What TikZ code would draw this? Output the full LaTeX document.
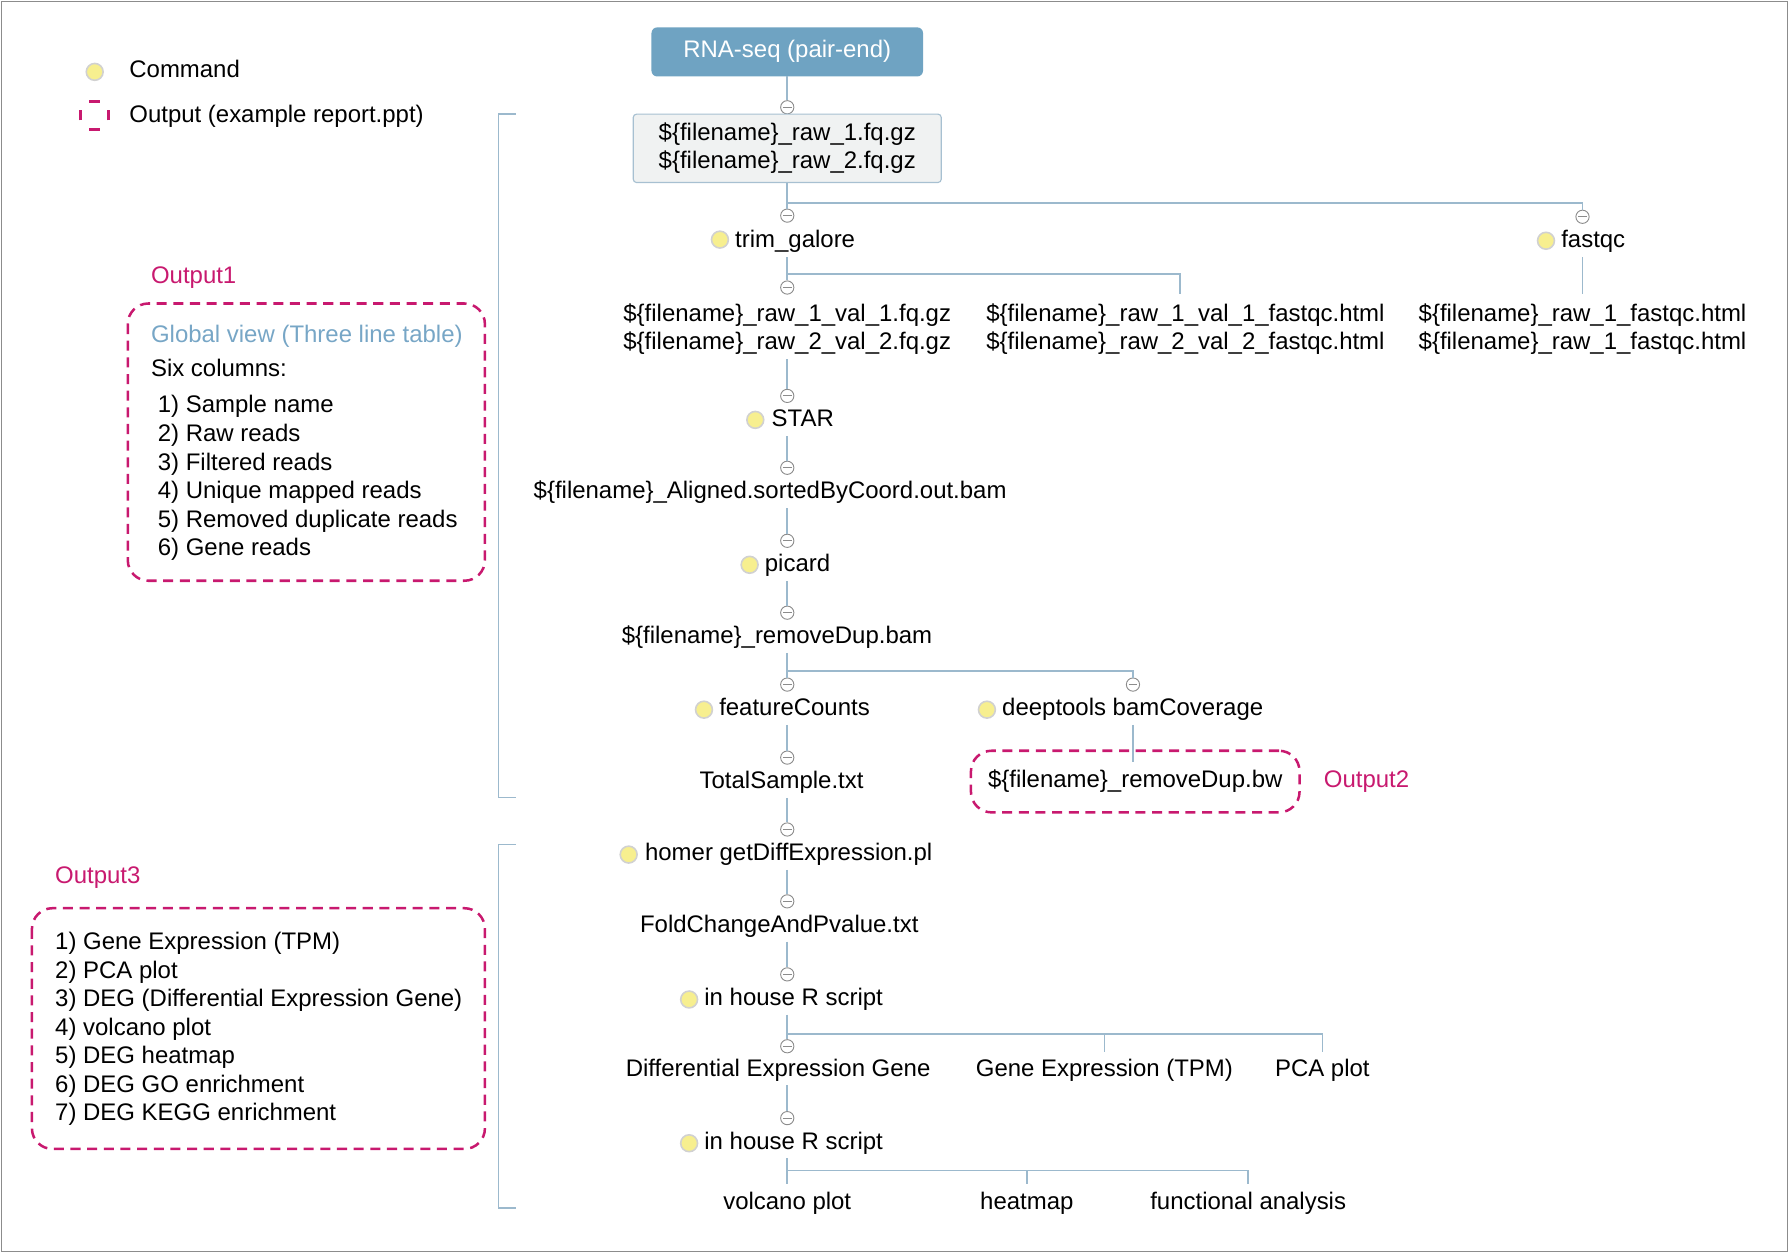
\documentclass[tikz,border=0pt]{standalone}
\usepackage{fontspec}
\setmainfont{Liberation Sans}
\definecolor{lineblue}{HTML}{9CB9CD}
\definecolor{boxblue}{HTML}{6FA3C2}
\definecolor{mag}{HTML}{C8196F}
\definecolor{bulfill}{HTML}{F7EF8F}
\definecolor{rawfill}{HTML}{F0F2F2}
\definecolor{rawdraw}{HTML}{A7C0D1}
\definecolor{ltxt}{HTML}{77A6C6}
\newcommand{\myf}{\fontsize{10.5pt}{12.5pt}\selectfont}
\begin{document}
\begin{tikzpicture}[x=0.5pt,y=-0.5pt,
  txt/.style={inner sep=0pt, outer ysep=2pt, text height=0.72em, text depth=0.21em, font=\myf, yshift=-1pt},
  mtxt/.style={inner sep=0pt, outer ysep=2pt, font=\myf, yshift=-1pt},
  cmd/.style={txt, anchor=west},
  bul/.style={circle, fill=bulfill, draw=black!18, line width=0.7pt, minimum size=7.4pt, inner sep=0pt},
  coll/.style={circle, draw=black!45, fill=white, line width=0.4pt, minimum size=5.8pt, inner sep=0pt,
    path picture={\draw[black!45, line width=0.4pt] ([xshift=1pt]path picture bounding box.west) -- ([xshift=-1pt]path picture bounding box.east);}},
  conn/.style={draw=lineblue, line width=0.7pt},
  outbox/.style={draw=mag, line width=1.1pt, dash pattern=on 4.4pt off 2.9pt, rounded corners=9pt},
  maglab/.style={txt, text=mag, anchor=west},
  magline/.style={draw=mag, line width=1.3pt}
]
\useasboundingbox (0,0) rectangle (1568,1098);
\draw[black!45, line width=0.5pt] (1,1) rectangle (1567,1097);

% legend
\node[bul] (lb) at (83,63) {};
\node[cmd] (lcmd) at (113,61) {Command};
\node[minimum size=12pt, inner sep=0pt] (licon) at (83,101) {};
\draw[magline] ([xshift=-2.4pt]licon.north) -- ([xshift=2.4pt]licon.north);
\draw[magline] ([xshift=-2.4pt]licon.south) -- ([xshift=2.4pt]licon.south);
\draw[magline] ([yshift=-2.2pt]licon.west) -- ([yshift=2.2pt]licon.west);
\draw[magline] ([yshift=-2.2pt]licon.east) -- ([yshift=2.2pt]licon.east);
\node[cmd] (lout) at (113,100) {Output (example report.ppt)};

% Output1
\node[maglab] (o1lab) at (132,241) {Output1};
\draw[outbox] (112,266) rectangle (425,509);
\node[txt, anchor=west, text=ltxt] (gv) at (132,293) {Global view (Three line table)};
\node[txt, anchor=west] (six) at (132,323) {Six columns:};
\node[mtxt, anchor=west, align=left] (o1list) at (138,417) {1) Sample name\\2) Raw reads\\3) Filtered reads\\4) Unique mapped reads\\5) Removed duplicate reads\\6) Gene reads};

% Output3
\node[maglab] (o3lab) at (48,767) {Output3};
\draw[outbox] (28,796) rectangle (425,1007);
\node[mtxt, anchor=west, align=left] (o3list) at (48,900) {1) Gene Expression (TPM)\\2) PCA plot\\3) DEG (Differential Expression Gene)\\4) volcano plot\\5) DEG heatmap\\6) DEG GO enrichment\\7) DEG KEGG enrichment};

% brackets
\coordinate (br1a) at (452,100); \coordinate (br1b) at (437,100);
\coordinate (br1c) at (437,699); \coordinate (br1d) at (452,699);
\draw[conn] (br1a) -- (br1b) -- (br1c) -- (br1d);
\coordinate (br2a) at (452,740); \coordinate (br2b) at (437,740);
\coordinate (br2c) at (437,1059); \coordinate (br2d) at (452,1059);
\draw[conn] (br2a) -- (br2b) -- (br2c) -- (br2d);

% main tree
\node[txt, outer ysep=0pt, yshift=1pt, fill=boxblue, text=white, rounded corners=2.5pt, minimum width=119pt, minimum height=21.5pt] (rna) at (690,45.5) {RNA-seq (pair-end)};
\node[coll] (k1) at (690,94) {};
\draw[conn] (rna) -- (k1);
\node[draw=rawdraw, fill=rawfill, line width=0.5pt, rounded corners=1.5pt, minimum width=135pt, minimum height=30pt, inner sep=0pt, align=center, font=\myf] (raw) at (690,130) {\$\{filename\}\_raw\_1.fq.gz\\\$\{filename\}\_raw\_2.fq.gz};
\node[coll] (k2) at (690,189) {};
\draw[conn] (raw) -- (k2);
\coordinate (j1) at (690,178);
\node[coll] (k3) at (1387,190) {};
\draw[conn] (j1) -| (k3);
\node[bul] (b1) at (631,210) {};
\node[cmd] (trim) at (644,210) {trim\_galore};
\node[bul] (b2) at (1355,211) {};
\node[cmd] (fastqc) at (1368,210) {fastqc};

\node[coll] (k4) at (690,252) {};
\draw[conn] (k4.north |- trim.south) -- (k4);
\coordinate (j2) at (690,240);
\coordinate (e1) at (1034,258);
\draw[conn] (j2) -| (e1);
\coordinate (e2) at (1387,258);
\draw[conn] (e2 |- fastqc.south) -- (e2);

\node[mtxt, align=center] (trimout) at (690,286.5) {\$\{filename\}\_raw\_1\_val\_1.fq.gz\\\$\{filename\}\_raw\_2\_val\_2.fq.gz};
\node[mtxt, align=center] (trimqc) at (1039,286.5) {\$\{filename\}\_raw\_1\_val\_1\_fastqc.html\\\$\{filename\}\_raw\_2\_val\_2\_fastqc.html};
\node[mtxt, align=center] (fqc) at (1387,286.5) {\$\{filename\}\_raw\_1\_fastqc.html\\\$\{filename\}\_raw\_1\_fastqc.html};

\node[coll] (k5) at (690,347) {};
\draw[conn] (trimout) -- (k5);
\node[bul] (b3) at (662,368) {};
\node[cmd] (star) at (676,367) {STAR};
\node[coll] (k6) at (690,410) {};
\draw[conn] (k6.north |- star.south) -- (k6);
\node[txt] (aligned) at (675,430) {\$\{filename\}\_Aligned.sortedByCoord.out.bam};
\node[coll] (k7) at (690,474) {};
\draw[conn] (k7.north |- aligned.south) -- (k7);
\node[bul] (b4) at (657,495) {};
\node[cmd] (picard) at (670,494) {picard};
\node[coll] (k8) at (690,537) {};
\draw[conn] (k8.north |- picard.south) -- (k8);
\node[txt] (rmdup) at (681,557) {\$\{filename\}\_removeDup.bam};
\coordinate (j3) at (690,588);
\node[coll] (k9) at (690,600) {};
\node[coll] (k10) at (993,600) {};
\draw[conn] (k9.north |- rmdup.south) -- (k9);
\draw[conn] (j3) -| (k10);
\node[bul] (b5) at (617,622) {};
\node[cmd] (fc) at (630,620) {featureCounts};
\node[bul] (b6) at (865,622) {};
\node[cmd] (dt) at (878,620) {deeptools bamCoverage};
\node[coll] (k11) at (690,664) {};
\draw[conn] (k11.north |- fc.south) -- (k11);
\node[txt] (total) at (685,684) {TotalSample.txt};
\node[txt, outer ysep=0pt, outbox, minimum width=144pt, minimum height=27pt] (bw) at (995,683) {\$\{filename\}\_removeDup.bw};
\coordinate (e3) at (993,668);
\draw[conn] (e3 |- dt.south) -- (e3);
\node[maglab] (o2lab) at (1160,683) {Output2};

\node[coll] (k12) at (690,727) {};
\draw[conn] (k12.north |- total.south) -- (k12);
\node[bul] (b7) at (551,749) {};
\node[cmd] (homer) at (565,747) {homer getDiffExpression.pl};
\node[coll] (k13) at (690,790) {};
\draw[conn] (k13.north |- homer.south) -- (k13);
\node[txt] (fold) at (683,810) {FoldChangeAndPvalue.txt};
\node[coll] (k14) at (690,854) {};
\draw[conn] (k14.north |- fold.south) -- (k14);
\node[bul] (b8) at (604,876) {};
\node[cmd] (r1) at (617,874) {in house R script};
\coordinate (j4) at (690,906);
\node[coll] (k15) at (690,917) {};
\draw[conn] (k15.north |- r1.south) -- (k15);
\coordinate (e4) at (968,922);
\coordinate (e5) at (1159,922);
\draw[conn] (j4) -| (e5);
\draw[conn] (j4 -| e4) -- (e4);
\node[txt] (deg) at (682,936) {Differential Expression Gene};
\node[txt] (ge) at (968,936) {Gene Expression (TPM)};
\node[txt] (pca) at (1159,936) {PCA plot};
\node[coll] (k16) at (690,980) {};
\draw[conn] (k16.north |- deg.south) -- (k16);
\node[bul] (b9) at (604,1002) {};
\node[cmd] (r2) at (617,1000) {in house R script};
\coordinate (j5) at (690,1026);
\coordinate (e6) at (690,1038);
\coordinate (e7) at (900,1038);
\coordinate (e8) at (1094,1038);
\draw[conn] (e6 |- r2.south) -- (e6);
\draw[conn] (j5) -| (e8);
\draw[conn] (j5 -| e7) -- (e7);
\node[txt] (vol) at (690,1053) {volcano plot};
\node[txt] (heat) at (900,1053) {heatmap};
\node[txt] (func) at (1094,1053) {functional analysis};
\end{tikzpicture}
\end{document}
